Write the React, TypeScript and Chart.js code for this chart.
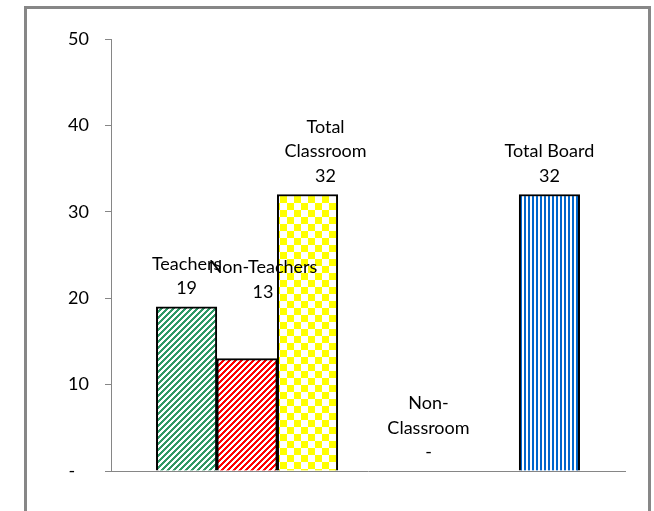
import React, { useEffect, useRef } from "react";
import { Chart, registerables } from "chart.js";

Chart.register(...registerables);

// ---- data ----
const categories = ["Teachers", "Non-Teachers", "Total Classroom", "Non-Classroom", "Total Board"];
const labelLines = [["Teachers"], ["Non-Teachers"], ["Total", "Classroom"], ["Non-", "Classroom"], ["Total Board"]];
const values = [19, 13, 32, 0, 32];
const slots = [1.5, 2.5, 3.5, 5.5, 7.5];
const yTicks = [0, 10, 20, 30, 40, 50];

// label nudges (dx right, dy up) for manually moved data labels
const labelNudge: [number, number][] = [[0, 0], [16, 48], [18, 0], [0, 0], [0, 0]];

const FONT = "Lato";
const FONT_SIZE = 18;

function makePattern(kind: string, color: string): CanvasPattern | string {
  if (kind === "none") return "rgba(0,0,0,0)";
  const size = kind === "check" ? 14 : kind === "vert" ? 4 : 6;
  const c = document.createElement("canvas");
  c.width = size;
  c.height = size;
  const g = c.getContext("2d");
  if (!g) return color;
  g.fillStyle = "#ffffff";
  g.fillRect(0, 0, size, size);
  g.fillStyle = color;
  for (let y = 0; y < size; y++) {
    for (let x = 0; x < size; x++) {
      let on = false;
      if (kind === "diag") on = (x + y) % 6 < 3;
      else if (kind === "check") on = (Math.floor(x / 7) + Math.floor(y / 7)) % 2 === 0;
      else if (kind === "vert") on = x < 2;
      if (on) g.fillRect(x, y, 1, 1);
    }
  }
  const p = g.createPattern(c, "repeat");
  return p || color;
}

const labelPlugin = {
  id: "barLabels",
  afterDatasetsDraw(chart: any) {
    const ctx = chart.ctx;
    const meta = chart.getDatasetMeta(0);
    ctx.save();
    ctx.font = `${FONT_SIZE}px ${FONT}`;
    ctx.fillStyle = "#000000";
    ctx.textAlign = "center";
    ctx.textBaseline = "middle";
    meta.data.forEach((el: any, i: number) => {
      const lines = [...labelLines[i], values[i] === 0 ? "-" : String(values[i])];
      const [dx, dy] = labelNudge[i];
      const cx = el.x + dx;
      const lastY = el.y - 18.5 - dy;
      lines.forEach((t, j) => {
        ctx.fillText(t, cx, lastY - (lines.length - 1 - j) * 24.5);
      });
    });
    ctx.restore();
  },
};

export default function App() {
  const ref = useRef<HTMLCanvasElement>(null);

  useEffect(() => {
    const canvas = ref.current;
    if (!canvas) return;
    const fills = [
      makePattern("diag", "#2E9966"),
      makePattern("diag", "#FF0000"),
      makePattern("check", "#FFFF00"),
      makePattern("none", ""),
      makePattern("vert", "#0066CC"),
    ];
    const chart = new Chart(canvas, {
      type: "bar",
      data: {
        labels: categories,
        datasets: [
          {
            label: "Staff",
            data: values.map((v, i) => ({ x: slots[i], y: v })),
            backgroundColor: fills as any,
            borderColor: "#000000",
            borderWidth: values.map((v) => (v === 0 ? 0 : 2)),
            borderSkipped: "bottom",
            barPercentage: 1,
            categoryPercentage: 1,
          } as any,
        ],
      },
      options: {
        responsive: false,
        animation: false,
        layout: { padding: { top: 39, right: 29, bottom: 40, left: 0 } },
        plugins: {
          legend: { display: false },
          tooltip: { enabled: false },
        },
        scales: {
          x: {
            type: "linear",
            offset: false,
            min: 0.25,
            max: 8.75,
            grid: { display: false },
            ticks: { display: false },
            border: { display: true, color: "#868686", width: 1 },
            afterBuildTicks: (a: any) => {
              a.ticks = slots.map((v) => ({ value: v }));
            },
            afterFit: (a: any) => {
              a.height = 0;
            },
          },
          y: {
            min: 0,
            max: 50,
            afterBuildTicks: (a: any) => {
              a.ticks = yTicks.map((v) => ({ value: v }));
            },
            ticks: {
              callback: (v: any) => (Number(v) === 0 ? "-   " : String(v)),
              font: { family: FONT, size: FONT_SIZE },
              color: "#000000",
              padding: 16,
            },
            grid: {
              drawOnChartArea: false,
              drawTicks: true,
              tickLength: 6,
              color: "#868686",
            },
            border: { display: true, color: "#868686", width: 1 },
            afterFit: (a: any) => {
              a.width = 111;
            },
          },
        },
      } as any,
      plugins: [labelPlugin],
    });
    return () => chart.destroy();
  }, []);

  return (
    <div
      style={{
        position: "absolute",
        left: 0,
        top: 0,
        width: 654,
        height: 511,
        overflow: "hidden",
        background: "#ffffff",
      }}
    >
      <canvas ref={ref} width={654} height={511} style={{ display: "block", position: "absolute", left: 0, top: 0 }} />
      <div
        style={{
          position: "absolute",
          left: 24,
          top: 6,
          width: 621,
          height: 600,
          border: "3px solid #878787",
          pointerEvents: "none",
        }}
      />
    </div>
  );
}
